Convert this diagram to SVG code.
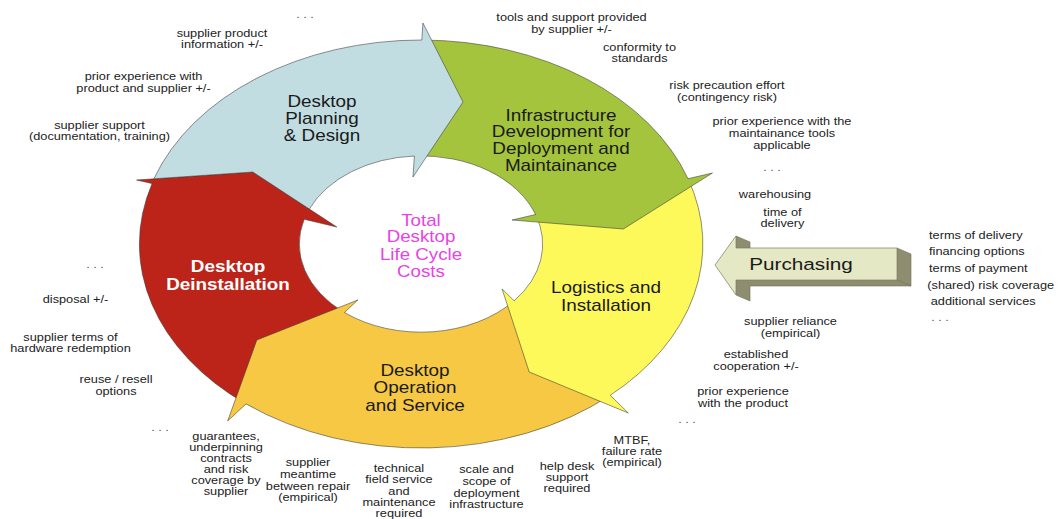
<svg xmlns="http://www.w3.org/2000/svg" width="1058" height="519" viewBox="0 0 1058 519">
  <style>
    .seg { stroke: #3a3a3a; stroke-width: 0.8; stroke-opacity: 0.7; stroke-linejoin: miter; }
    .lbl { font-family: "Liberation Sans", Arial, sans-serif; font-size: 16px; fill: #1a1a1a; text-anchor: middle; }
    .lbl-w { font-family: "Liberation Sans", Arial, sans-serif; font-size: 16px; font-weight: bold; fill: #ffffff; text-anchor: middle; }
    .core { font-family: "Liberation Sans", Arial, sans-serif; font-size: 16px; fill: #e643e6; text-anchor: middle; }
    .note { font-family: "Liberation Sans", Arial, sans-serif; font-size: 11px; fill: #222222; text-anchor: middle; }
    .note-l { font-family: "Liberation Sans", Arial, sans-serif; font-size: 11px; fill: #222222; text-anchor: start; }
    .dots { font-family: "Liberation Sans", Arial, sans-serif; font-size: 11px; fill: #555555; text-anchor: middle; }
    .buy-face { fill: #e5e8c4; stroke: #8a8a70; stroke-width: 0.8; }
    .buy-side { fill: #8e8d70; stroke: #6f6e58; stroke-width: 0.6; }
  </style>

  <!-- life cycle ring: drawn in circle space, stretched to the ellipse -->
  <g id="ring" transform="translate(421,244) scale(1.382,1)">
    <g id="deinstallation">
      <path class="seg" vector-effect="non-scaling-stroke" fill="#bc2419"
            d="M -126.6,159.9 A 204 204 0 0 1 -194.6,-60.4 L -205.8,-64 L -121.7,-72 L -60.9,-17 L -84.5,-24.7 A 88 88 0 0 0 -55.4,68.5 Z"/>
    </g>
    <g id="operation">
      <path class="seg" vector-effect="non-scaling-stroke" fill="#f6c843"
            d="M 136.9,151.3 A 204 204 0 0 1 -126.6,159.9 L -139.9,177 L -118.8,96 L -45.7,56 L -55.4,68.5 A 88 88 0 0 0 67.4,56.8 Z"/>
    </g>
    <g id="logistics">
      <path class="seg" vector-effect="non-scaling-stroke" fill="#fef95a"
            d="M 193.2,-65.3 A 204 204 0 0 1 136.9,151.3 L 150,169 L 78.3,128 L 58.7,45 L 67.4,56.8 A 88 88 0 0 0 82.9,-29.5 Z"/>
    </g>
    <g id="infrastructure">
      <path class="seg" vector-effect="non-scaling-stroke" fill="#a4c43d"
            d="M 0.6,-204 A 204 204 0 0 1 193.2,-65.3 L 210.9,-71 L 146.4,-15 L 65.9,-24 L 82.9,-29.5 A 88 88 0 0 0 -4.8,-88 Z"/>
    </g>
    <g id="planning">
      <path class="seg" vector-effect="non-scaling-stroke" fill="#c2dde2"
            d="M -193.3,-65.2 A 204 204 0 0 1 0.6,-204 L 1.4,-221 L 30.4,-142 L -5.8,-67 L -4.8,-88 A 88 88 0 0 0 -80.8,-35 L -121.7,-72 Z"/>
    </g>
  </g>

  <!-- phase labels -->
  <g id="phase-labels">
    <text class="lbl" transform="matrix(1.18 0 0 1 322 0)"><tspan x="0" y="107.5">Desktop</tspan><tspan x="0" y="124">Planning</tspan><tspan x="0" y="141">&amp; Design</tspan></text>
    <text class="lbl" transform="matrix(1.18 0 0 1 561 0)"><tspan x="0" y="121">Infrastructure</tspan><tspan x="0" y="137.5">Development for</tspan><tspan x="0" y="154">Deployment and</tspan><tspan x="0" y="171">Maintainance</tspan></text>
    <text class="lbl" transform="matrix(1.18 0 0 1 606 0)"><tspan x="0" y="293">Logistics and</tspan><tspan x="0" y="311">Installation</tspan></text>
    <text class="lbl" transform="matrix(1.18 0 0 1 415 0)"><tspan x="0" y="376">Desktop</tspan><tspan x="0" y="393">Operation</tspan><tspan x="0" y="411">and Service</tspan></text>
    <text class="lbl-w" transform="matrix(1.18 0 0 1 228 0)"><tspan x="0" y="272.5">Desktop</tspan><tspan x="0" y="290">Deinstallation</tspan></text>
    <text class="core" transform="matrix(1.17 0 0 1 421 0)"><tspan x="0" y="226">Total</tspan><tspan x="0" y="242.5">Desktop</tspan><tspan x="0" y="260">Life Cycle</tspan><tspan x="0" y="277">Costs</tspan></text>
  </g>

  <!-- purchasing block arrow with extruded sides -->
  <g id="purchasing">
    <polygon class="buy-side" points="736,236 750,242 750,248 736,248"/>
    <polygon class="buy-side" points="897,248 911,254 911,286 897,280"/>
    <polygon class="buy-side" points="736,280 897,280 911,286 750,286 750,301 736,295"/>
    <polygon class="buy-face" points="715,265 736,236 736,248 897,248 897,280 736,280 736,295"/>
    <text class="lbl" transform="matrix(1.22 0 0 1 801 0)" x="0" y="270" style="font-size:17px">Purchasing</text>
  </g>

  <!-- cost factor notes -->
  <g id="notes">
    <text class="dots" transform="matrix(1.16 0 0 1 305 0)" x="0" y="18">. . .</text>
    <text class="note" transform="matrix(1.16 0 0 1 222 0)"><tspan x="0" y="37">supplier product</tspan><tspan x="0" y="48">information +/-</tspan></text>
    <text class="note" transform="matrix(1.16 0 0 1 143.5 0)"><tspan x="0" y="80">prior experience with</tspan><tspan x="0" y="92">product and supplier +/-</tspan></text>
    <text class="note" transform="matrix(1.16 0 0 1 99.5 0)"><tspan x="0" y="129">supplier support</tspan><tspan x="0" y="140">(documentation, training)</tspan></text>

    <text class="note" transform="matrix(1.16 0 0 1 571.5 0)"><tspan x="0" y="21">tools and support provided</tspan><tspan x="0" y="33">by supplier +/-</tspan></text>
    <text class="note" transform="matrix(1.16 0 0 1 639.5 0)"><tspan x="0" y="51">conformity to</tspan><tspan x="0" y="62.5">standards</tspan></text>
    <text class="note" transform="matrix(1.16 0 0 1 727 0)"><tspan x="0" y="89.5">risk precaution effort</tspan><tspan x="0" y="101.5">(contingency risk)</tspan></text>
    <text class="note" transform="matrix(1.16 0 0 1 782 0)"><tspan x="0" y="125.5">prior experience with the</tspan><tspan x="0" y="137.5">maintainance tools</tspan><tspan x="0" y="149.5">applicable</tspan></text>
    <text class="dots" transform="matrix(1.16 0 0 1 772 0)" x="0" y="171">. . .</text>
    <text class="note" transform="matrix(1.16 0 0 1 775 0)" x="0" y="198">warehousing</text>
    <text class="note" transform="matrix(1.16 0 0 1 782.5 0)"><tspan x="0" y="216">time of</tspan><tspan x="0" y="227">delivery</tspan></text>

    <text class="note-l" transform="matrix(1.16 0 0 1 929 0)"><tspan x="0" y="239">terms of delivery</tspan><tspan x="0" y="255.5">financing options</tspan><tspan x="0" y="272">terms of payment</tspan><tspan x="-1.5" y="289">(shared) risk coverage</tspan><tspan x="1.5" y="305.5">additional services</tspan></text>
    <text class="dots" transform="matrix(1.16 0 0 1 940 0)" x="0" y="321">. . .</text>

    <text class="note" transform="matrix(1.16 0 0 1 790.5 0)"><tspan x="0" y="325">supplier reliance</tspan><tspan x="0" y="337">(empirical)</tspan></text>
    <text class="note" transform="matrix(1.16 0 0 1 756 0)"><tspan x="0" y="358.5">established</tspan><tspan x="0" y="370.5">cooperation +/-</tspan></text>
    <text class="note" transform="matrix(1.16 0 0 1 743 0)"><tspan x="0" y="395.5">prior experience</tspan><tspan x="0" y="407.5">with the product</tspan></text>
    <text class="dots" transform="matrix(1.16 0 0 1 687 0)" x="0" y="423">. . .</text>

    <text class="note" transform="matrix(1.16 0 0 1 632 0)"><tspan x="0" y="444">MTBF,</tspan><tspan x="0" y="455">failure rate</tspan><tspan x="0" y="466">(empirical)</tspan></text>
    <text class="note" transform="matrix(1.16 0 0 1 567 0)"><tspan x="0" y="470">help desk</tspan><tspan x="0" y="481">support</tspan><tspan x="0" y="492.5">required</tspan></text>
    <text class="note" transform="matrix(1.16 0 0 1 486.5 0)"><tspan x="0" y="473.5">scale and</tspan><tspan x="0" y="485">scope of</tspan><tspan x="0" y="497">deployment</tspan><tspan x="0" y="508">infrastructure</tspan></text>
    <text class="note" transform="matrix(1.16 0 0 1 399 0)"><tspan x="0" y="472">technical</tspan><tspan x="0" y="483.5">field service</tspan><tspan x="0" y="495">and</tspan><tspan x="0" y="506">maintenance</tspan><tspan x="0" y="517.5">required</tspan></text>
    <text class="note" transform="matrix(1.16 0 0 1 308 0)"><tspan x="0" y="466">supplier</tspan><tspan x="0" y="478.5">meantime</tspan><tspan x="0" y="490">between repair</tspan><tspan x="0" y="501">(empirical)</tspan></text>
    <text class="note" transform="matrix(1.16 0 0 1 226 0)"><tspan x="0" y="440">guarantees,</tspan><tspan x="0" y="451.5">underpinning</tspan><tspan x="0" y="462.5">contracts</tspan><tspan x="0" y="473.5">and risk</tspan><tspan x="0" y="484.5">coverage by</tspan><tspan x="0" y="495.5">supplier</tspan></text>
    <text class="dots" transform="matrix(1.16 0 0 1 160 0)" x="0" y="431">. . .</text>

    <text class="note" transform="matrix(1.16 0 0 1 116 0)"><tspan x="0" y="383.5">reuse / resell</tspan><tspan x="0" y="395">options</tspan></text>
    <text class="note" transform="matrix(1.16 0 0 1 70.5 0)"><tspan x="0" y="341">supplier terms of</tspan><tspan x="0" y="352">hardware redemption</tspan></text>
    <text class="note" transform="matrix(1.16 0 0 1 75.5 0)" x="0" y="303">disposal +/-</text>
    <text class="dots" transform="matrix(1.16 0 0 1 95 0)" x="0" y="268">. . .</text>
  </g>
</svg>
